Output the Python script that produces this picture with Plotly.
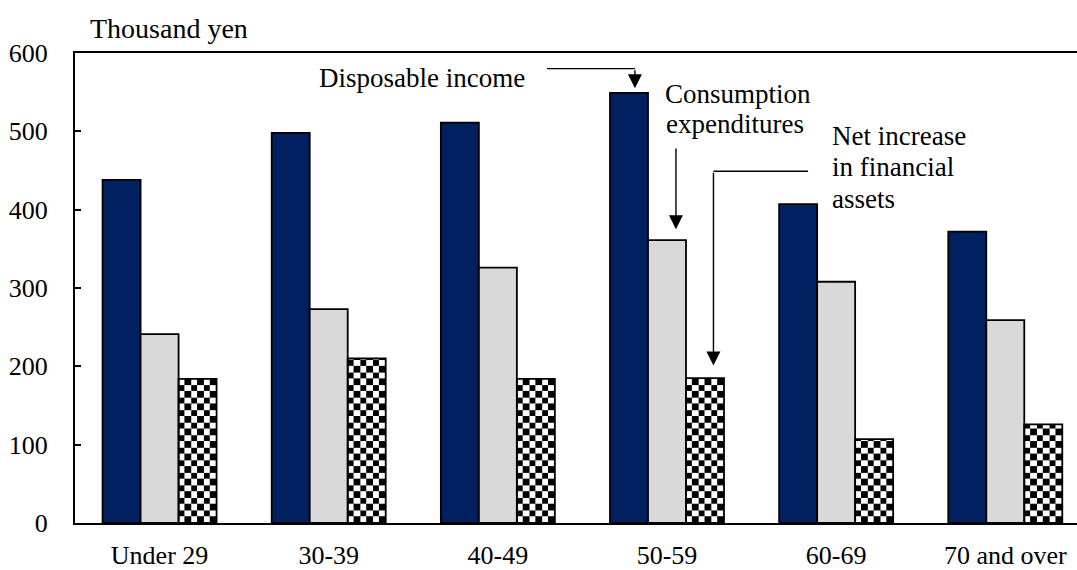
import base64
import plotly.graph_objects as go

# Monthly household budget by age of household head (thousand yen)
ages = ["Under 29", "30-39", "40-49", "50-59", "60-69", "70 and over"]
disposable_income = [438, 498, 511, 549, 407, 372]
consumption = [241, 273, 326, 361, 308, 259]
net_financial = [184, 210, 184, 185, 107, 126]

y_ticks = [0, 100, 200, 300, 400, 500, 600]

W, H = 1077, 570
M_L, M_R, M_T, M_B = 75, 0, 53, 42
Y_MAX = 600
X_RANGE = [-0.5, 5.424]
BARGAP = 0.326
SLOT = (1 - BARGAP) / 3  # width of one bar in axis units

NAVY = "#002060"
GREY = "#D9D9D9"
FONT = "Liberation Serif, Times New Roman, serif"

px_per_x = (W - M_L - M_R) / (X_RANGE[1] - X_RANGE[0])
px_per_y = (H - M_T - M_B) / Y_MAX


def checker_uri(w_px, h_px, n_across=6):
    """Black/white checkerboard as an SVG data URI sized to one bar."""
    s = w_px / n_across
    off = h_px % (2 * s)
    svg = (
        f'<svg xmlns="http://www.w3.org/2000/svg" width="{w_px:.3f}" height="{h_px:.3f}" '
        f'viewBox="0 0 {w_px:.3f} {h_px:.3f}" preserveAspectRatio="none" shape-rendering="crispEdges">'
        f'<defs><pattern id="c" patternUnits="userSpaceOnUse" x="0" y="{off:.3f}" '
        f'width="{2*s:.3f}" height="{2*s:.3f}">'
        f'<rect width="{2*s:.3f}" height="{2*s:.3f}" fill="#ffffff"/>'
        f'<rect width="{s:.3f}" height="{s:.3f}" fill="#000000"/>'
        f'<rect x="{s:.3f}" y="{s:.3f}" width="{s:.3f}" height="{s:.3f}" fill="#000000"/>'
        f'</pattern></defs><rect width="100%" height="100%" fill="url(#c)"/></svg>'
    )
    return "data:image/svg+xml;base64," + base64.b64encode(svg.encode()).decode()


xs = list(range(len(ages)))
bar_line = dict(color="black", width=1.8)

fig = go.Figure()
fig.add_trace(go.Bar(x=xs, y=disposable_income, name="Disposable income",
                     marker=dict(color=NAVY, line=bar_line)))
fig.add_trace(go.Bar(x=xs, y=consumption, name="Consumption expenditures",
                     marker=dict(color=GREY, line=bar_line)))
fig.add_trace(go.Bar(x=xs, y=net_financial, name="Net increase in financial assets",
                     marker=dict(color="rgba(0,0,0,0)", line=bar_line)))

# checkerboard fill under the outlined third bars
images = []
for i, v in enumerate(net_financial):
    images.append(dict(
        source=checker_uri(SLOT * px_per_x, v * px_per_y),
        xref="x", yref="y", x=i + 0.5 * SLOT, y=v,
        sizex=SLOT, sizey=v, xanchor="left", yanchor="top",
        sizing="stretch", layer="below",
    ))

k = 3  # the 50-59 group carries the callouts
txt = dict(family=FONT, size=27, color="black")
arrow = dict(showarrow=True, arrowhead=2, arrowsize=2.0, arrowwidth=1.4,
             arrowcolor="black", standoff=0, text="",
             xref="x", yref="y", axref="x", ayref="y")

annotations = [
    dict(text="Thousand yen", xref="paper", yref="paper", x=0.013, y=1.052,
         xanchor="left", yanchor="middle", showarrow=False,
         font=dict(family=FONT, size=28, color="black")),
    dict(text="Disposable income", xref="x", yref="y", x=0.93, y=568,
         xanchor="left", yanchor="middle", showarrow=False, font=txt),
    dict(text="Consumption", xref="x", yref="y", x=2.978, y=548,
         xanchor="left", yanchor="middle", showarrow=False, font=txt),
    dict(text="expenditures", xref="x", yref="y", x=2.985, y=510,
         xanchor="left", yanchor="middle", showarrow=False, font=txt),
    dict(text="Net increase", xref="x", yref="y", x=3.964, y=494,
         xanchor="left", yanchor="middle", showarrow=False, font=txt),
    dict(text="in financial", xref="x", yref="y", x=3.964, y=455,
         xanchor="left", yanchor="middle", showarrow=False, font=txt),
    dict(text="assets", xref="x", yref="y", x=3.964, y=414,
         xanchor="left", yanchor="middle", showarrow=False, font=txt),
    # arrow heads
    dict(x=k - SLOT + 0.035, y=disposable_income[k] + 6,
         ax=k - SLOT + 0.035, ay=580, **arrow),
    dict(x=k + 0.053, y=consumption[k] + 14,
         ax=k + 0.053, ay=480, **arrow),
    dict(x=k + SLOT + 0.05, y=net_financial[k] + 16,
         ax=k + SLOT + 0.05, ay=449, **arrow),
]

seg = dict(type="line", xref="x", yref="y", line=dict(color="black", width=1.4))
shapes = [
    dict(x0=2.291, x1=k - SLOT + 0.035, y0=580, y1=580, **seg),
    dict(x0=3.834, x1=k + SLOT + 0.05, y0=449, y1=449, **seg),
]

fig.update_layout(
    width=W, height=H,
    margin=dict(l=M_L, r=M_R, t=M_T, b=M_B, pad=0),
    paper_bgcolor="white", plot_bgcolor="white",
    barmode="group", bargap=BARGAP, bargroupgap=0,
    showlegend=False,
    font=dict(family=FONT, size=26, color="black"),
    images=images, annotations=annotations, shapes=shapes,
    xaxis=dict(range=X_RANGE, tickvals=xs, ticktext=ages, ticks="",
               showline=True, linecolor="black", linewidth=2, mirror=True,
               showgrid=False, zeroline=False, ticklabelstandoff=8,
               tickfont=dict(family=FONT, size=26, color="black")),
    yaxis=dict(range=[0, Y_MAX], tickvals=y_ticks, ticks="inside", ticklen=6,
               tickwidth=2, tickcolor="black", showline=True, linecolor="black",
               linewidth=2, showgrid=False, zeroline=False, ticklabelstandoff=20,
               tickfont=dict(family=FONT, size=26, color="black")),
)

fig.write_html("out.html")
